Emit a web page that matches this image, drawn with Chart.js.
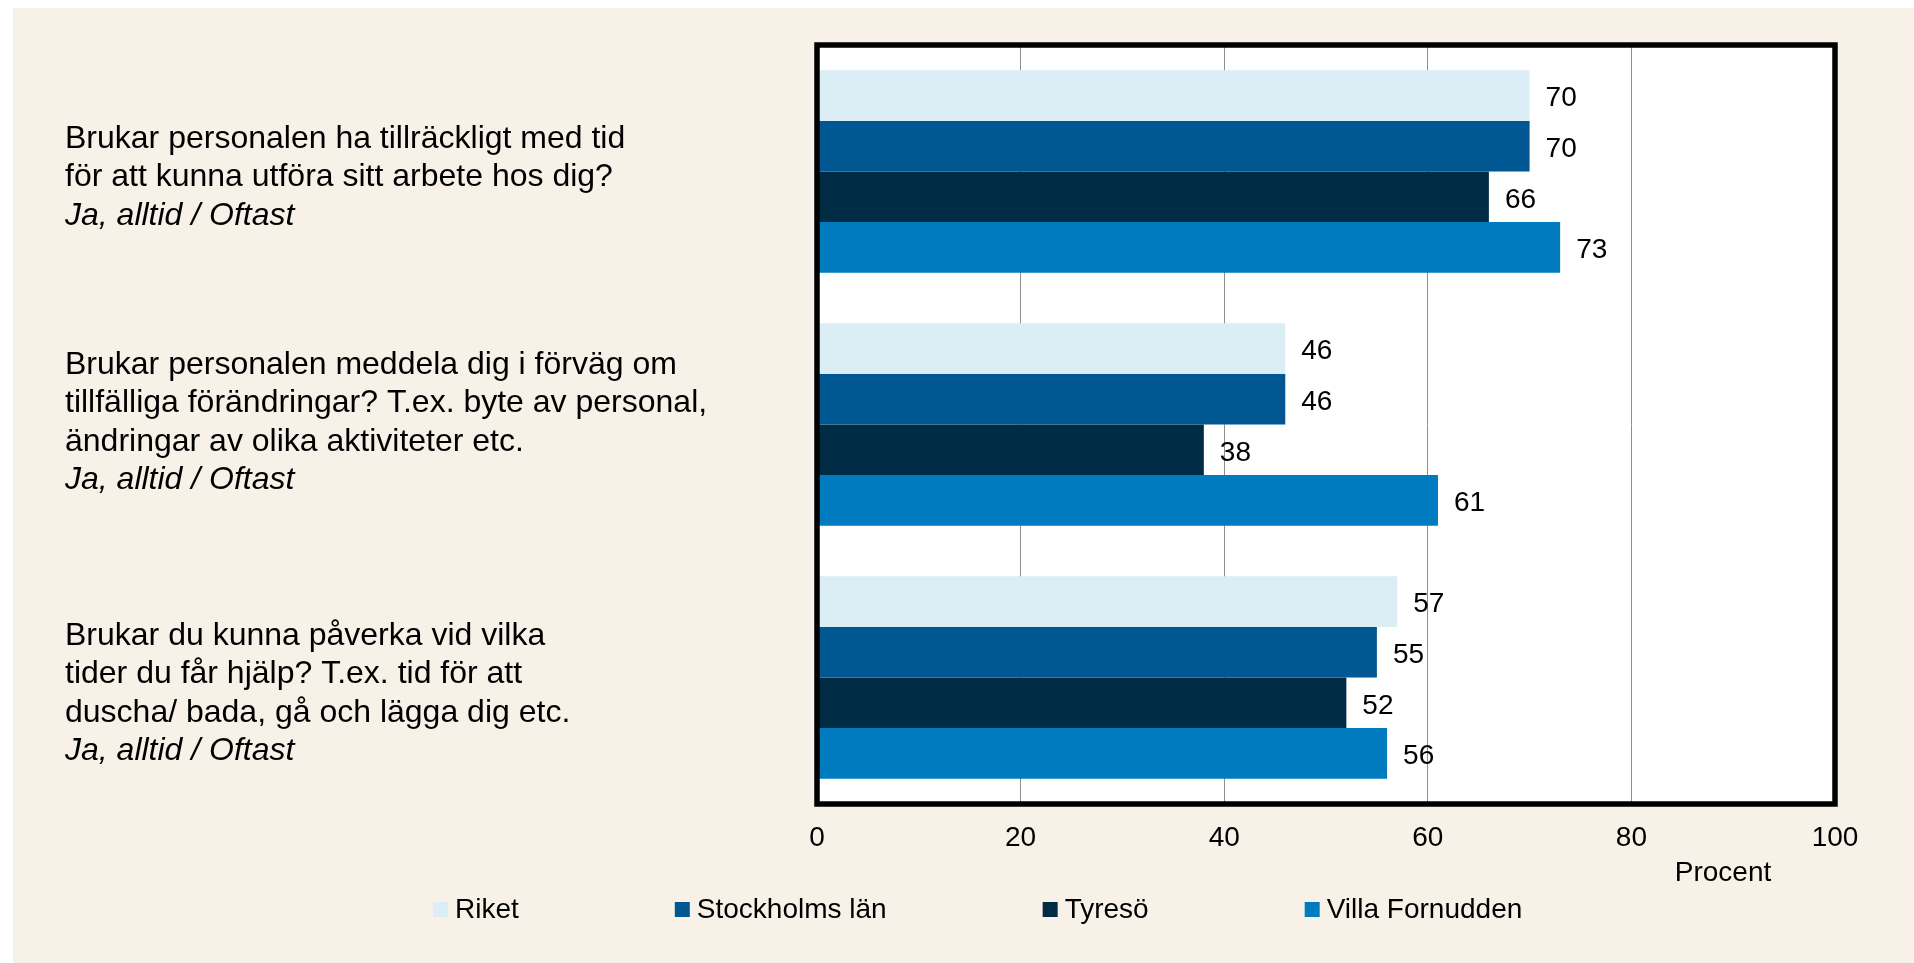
<!DOCTYPE html>
<html>
<head>
<meta charset="utf-8">
<script src="https://cdn.jsdelivr.net/npm/chart.js@4"></script>
<style>
  body { margin: 0; background: #ffffff; }
  canvas { display: block; }
</style>
</head>
<body>
<canvas id="barChart" width="1914" height="963"></canvas>
<script>
// frågor (sista raden kursiv)
const questions = [
    ['Brukar personalen ha tillräckligt med tid', 'för att kunna utföra sitt arbete hos dig?'],
    ['Brukar personalen meddela dig i förväg om', 'tillfälliga förändringar? T.ex. byte av personal,', 'ändringar av olika aktiviteter etc.'],
    ['Brukar du kunna påverka vid vilka', 'tider du får hjälp? T.ex. tid för att', 'duscha/ bada, gå och lägga dig etc.']
];
const answerText = 'Ja, alltid / Oftast';
const categories = ['Fråga 1', 'Fråga 2', 'Fråga 3'];

const seriesNames = ['Riket', 'Stockholms län', 'Tyresö', 'Villa Fornudden'];
const riket = [70, 46, 57];
const stockholm = [70, 46, 55];
const tyreso = [66, 38, 52];
const villaFornudden = [73, 61, 56];
const xTicks = [0, 20, 40, 60, 80, 100];
const axisTitle = 'Procent';

const colors = ['#dbeef6', '#005791', '#002b45', '#007bbf'];
const FONT = "'Liberation Sans', Arial, sans-serif";
const labelShift = [6, -2, 16];

Chart.defaults.font.family = FONT;

const backdrop = {
    id: 'backdrop',
    beforeDraw(chart) {
        const ctx = chart.ctx;
        const a = chart.chartArea;
        ctx.save();
        ctx.fillStyle = '#f8f1e8';
        ctx.fillRect(13, 8, chart.width - 13, chart.height - 8);
        ctx.fillStyle = '#ffffff';
        ctx.fillRect(a.left, a.top, a.right - a.left, a.bottom - a.top);
        ctx.restore();
    },
    afterDatasetsDraw(chart) {
        const ctx = chart.ctx;
        const a = chart.chartArea;
        ctx.save();
        // värden vid staplarna
        ctx.font = '28px ' + FONT;
        ctx.fillStyle = '#000';
        ctx.textAlign = 'left';
        ctx.textBaseline = 'middle';
        chart.data.datasets.forEach((ds, i) => {
            chart.getDatasetMeta(i).data.forEach((bar, j) => {
                ctx.fillText(ds.data[j], bar.x + 16, bar.y + 3);
            });
        });
        // ram
        ctx.strokeStyle = '#000';
        ctx.lineWidth = 5.5;
        ctx.strokeRect(a.left, a.top, a.right - a.left, a.bottom - a.top);
        ctx.restore();
    },
    afterDraw(chart) {
        const ctx = chart.ctx;
        const y = chart.scales.y;
        ctx.save();
        ctx.fillStyle = '#000';
        ctx.textAlign = 'left';
        ctx.textBaseline = 'middle';
        // frågetexter
        questions.forEach((lines, i) => {
            const all = lines.concat([answerText]);
            const pitch = 38.5;
            const cy = y.getPixelForValue(i) + labelShift[i];
            const top = cy - (all.length - 1) * pitch / 2;
            all.forEach((line, k) => {
                ctx.font = (k === all.length - 1 ? 'italic ' : '') + '32px ' + FONT;
                ctx.fillText(line, 65, top + k * pitch);
            });
        });
        // axeltitel
        ctx.font = '28px ' + FONT;
        ctx.textAlign = 'center';
        ctx.fillText(axisTitle, 1723, 873);
        // förklaring
        ctx.textAlign = 'left';
        let x = 433;
        chart.data.datasets.forEach(ds => {
            ctx.fillStyle = ds.backgroundColor;
            ctx.fillRect(x, 902, 15, 15);
            ctx.fillStyle = '#000';
            ctx.fillText(ds.label, x + 22, 910);
            x += 22 + ctx.measureText(ds.label).width + 156;
        });
        ctx.restore();
    }
};

const seriesData = [riket, stockholm, tyreso, villaFornudden];

new Chart(document.getElementById('barChart'), {
    type: 'bar',
    data: {
        labels: categories,
        datasets: seriesNames.map((name, i) => ({
            label: name,
            data: seriesData[i],
            backgroundColor: colors[i],
            borderWidth: 0,
            categoryPercentage: 0.8,
            barPercentage: 1
        }))
    },
    options: {
        indexAxis: 'y',
        responsive: false,
        animation: false,
        layout: {
            padding: { left: 817, right: 79, top: 45, bottom: 0 }
        },
        scales: {
            x: {
                min: 0,
                max: 100,
                afterBuildTicks: s => { s.ticks = xTicks.map(v => ({ value: v })); },
                afterFit: s => { s.height = 159; },
                border: { display: false },
                grid: {
                    color: ctx => (ctx.tick && (ctx.tick.value === 0 || ctx.tick.value === 100)) ? 'rgba(0,0,0,0)' : '#8f8f8f',
                    lineWidth: 1,
                    drawTicks: false
                },
                ticks: {
                    color: '#000',
                    padding: 17,
                    maxRotation: 0,
                    font: { size: 28 }
                }
            },
            y: {
                display: false
            }
        },
        plugins: {
            legend: { display: false },
            tooltip: { enabled: false }
        }
    },
    plugins: [backdrop]
});
</script>
</body>
</html>
